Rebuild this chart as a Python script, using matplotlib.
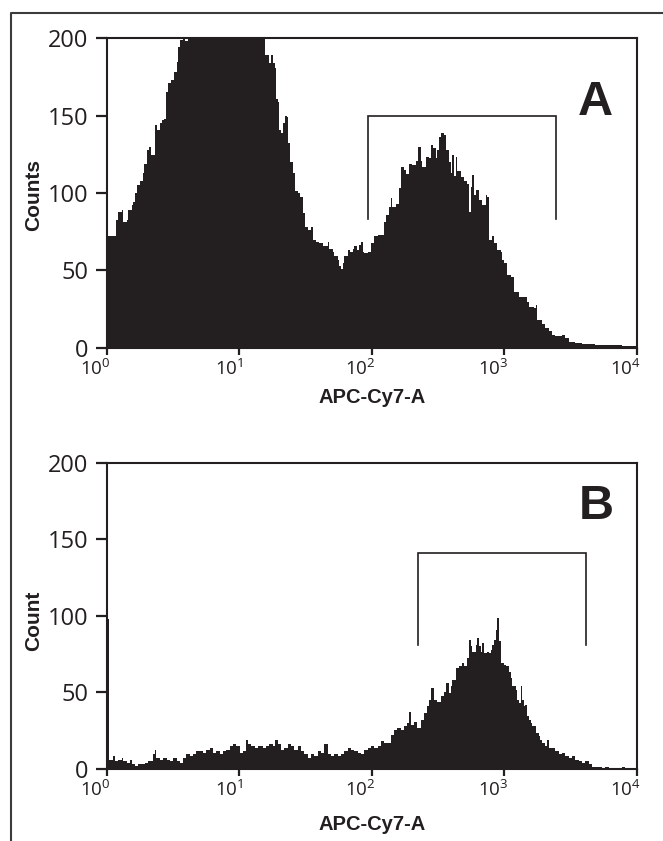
"""Two APC-Cy7-A flow cytometry histograms (A, B) with gate brackets."""

import matplotlib

matplotlib.use("Agg")
import matplotlib.pyplot as plt
import matplotlib.ticker as mticker
import numpy as np
from matplotlib.lines import Line2D
from matplotlib.transforms import ScaledTranslation

# ---- data (x positions in decades of APC-Cy7-A intensity, counts per bin) ----
a_log = [
    0.000, 0.015, 0.051, 0.071, 0.089, 0.114, 0.127, 0.152, 0.164, 0.189,
    0.202, 0.214, 0.227, 0.252, 0.272, 0.282, 0.302, 0.322, 0.332, 0.352,
    0.365, 0.382, 0.402, 0.415, 0.432, 0.447, 0.465, 0.490, 0.508, 0.528,
    0.540, 0.553, 0.580, 0.595, 0.615, 0.700, 0.800, 0.900, 1.000, 1.100,
    1.170, 1.195, 1.229, 1.242, 1.254, 1.267, 1.280, 1.292, 1.297, 1.317,
    1.329, 1.347, 1.362, 1.372, 1.387, 1.405, 1.422, 1.442, 1.462, 1.480,
    1.497, 1.517, 1.543, 1.555, 1.580, 1.605, 1.630, 1.668, 1.680, 1.705,
    1.718, 1.743, 1.756, 1.768, 1.781, 1.793, 1.818, 1.838, 1.856, 1.868,
    1.889, 1.906, 1.919, 1.931, 1.944, 1.968, 1.994, 2.019, 2.044, 2.069,
    2.089, 2.107, 2.132, 2.144, 2.156, 2.182, 2.207, 2.220, 2.244, 2.257,
    2.282, 2.307, 2.332, 2.350, 2.370, 2.382, 2.408, 2.432, 2.445, 2.465,
    2.483, 2.495, 2.508, 2.520, 2.545, 2.558, 2.583, 2.595, 2.608, 2.620,
    2.633, 2.645, 2.671, 2.695, 2.720, 2.733, 2.746, 2.758, 2.771, 2.783,
    2.808, 2.833, 2.859, 2.871, 2.883, 2.908, 2.921, 2.946, 2.971, 2.983,
    2.996, 3.021, 3.047, 3.071, 3.109, 3.147, 3.171, 3.184, 3.222, 3.235,
    3.247, 3.284, 3.310, 3.335, 3.359, 3.385, 3.435, 3.460, 3.485, 3.535,
    3.585, 3.686, 3.786, 3.886, 3.961,
]
a_counts = [
    134, 72, 72, 82.5, 88, 89, 81.5, 82.5, 89, 92,
    94.5, 100, 105, 107.5, 113, 119, 128, 130, 124.5, 124.5,
    144, 141, 145, 147, 148, 165.5, 171, 173, 178, 185,
    194.5, 199, 205, 198, 210, 228, 240, 238, 230, 218,
    205, 189, 184, 189, 184, 181, 161, 159, 141, 139,
    145, 150, 149, 132, 120, 113, 101, 100, 97.5, 87,
    78, 76, 78, 69.5, 68.5, 67.5, 65.5, 68.5, 64, 62,
    59, 56.5, 52.5, 51, 54.5, 59, 63, 62, 64, 65.5,
    63, 66.5, 68.5, 62, 61, 62, 67.5, 72, 73, 73,
    81.5, 86, 91, 96.5, 91, 93, 103, 117, 115, 112.5,
    119, 118, 121, 130, 121, 117, 123.5, 122.5, 131, 129,
    122.5, 128, 136.5, 138.5, 137.5, 128, 120, 113, 124.5, 111,
    123.5, 114, 110.5, 107.5, 106, 88, 104, 111.5, 98.5, 102,
    95.5, 92.5, 98.5, 97.5, 69.5, 72, 67.5, 63, 62, 56.5,
    54.5, 47, 46, 36, 33, 33, 29.5, 26.5, 25.5, 27.5,
    18, 15.5, 12.5, 10.5, 8, 7.5, 8, 6, 4, 3,
    2.5, 1.5, 1.5, 1, 1,
]

b_log = [
    0.000, 0.020, 0.051, 0.064, 0.089, 0.114, 0.127, 0.152, 0.177, 0.189,
    0.214, 0.239, 0.265, 0.289, 0.314, 0.340, 0.352, 0.365, 0.377, 0.402,
    0.427, 0.453, 0.477, 0.502, 0.528, 0.553, 0.577, 0.603, 0.628, 0.653,
    0.678, 0.703, 0.728, 0.753, 0.778, 0.803, 0.829, 0.853, 0.878, 0.904,
    0.929, 0.953, 0.979, 1.004, 1.029, 1.054, 1.066, 1.092, 1.117, 1.141,
    1.179, 1.205, 1.229, 1.254, 1.267, 1.292, 1.317, 1.342, 1.367, 1.393,
    1.417, 1.442, 1.468, 1.492, 1.517, 1.543, 1.568, 1.592, 1.618, 1.643,
    1.668, 1.693, 1.718, 1.743, 1.768, 1.793, 1.818, 1.844, 1.868, 1.893,
    1.919, 1.944, 1.968, 1.994, 2.019, 2.044, 2.069, 2.094, 2.119, 2.144,
    2.169, 2.194, 2.220, 2.244, 2.269, 2.282, 2.295, 2.320, 2.344, 2.370,
    2.395, 2.420, 2.432, 2.445, 2.470, 2.495, 2.520, 2.545, 2.558, 2.583,
    2.595, 2.608, 2.633, 2.658, 2.683, 2.695, 2.720, 2.733, 2.746, 2.758,
    2.783, 2.796, 2.808, 2.821, 2.833, 2.846, 2.871, 2.883, 2.896, 2.908,
    2.921, 2.934, 2.946, 2.959, 2.971, 2.996, 3.009, 3.021, 3.034, 3.047,
    3.059, 3.085, 3.097, 3.109, 3.122, 3.134, 3.147, 3.159, 3.171, 3.184,
    3.197, 3.209, 3.235, 3.259, 3.272, 3.284, 3.310, 3.322, 3.335, 3.359,
    3.385, 3.410, 3.435, 3.460, 3.485, 3.510, 3.535, 3.560, 3.585, 3.611,
    3.635, 3.660, 3.686, 3.735, 3.761, 3.786, 3.836, 3.886, 3.911, 3.961,
]
b_counts = [
    98, 6, 8.5, 5, 6, 7, 5, 4, 6, 3,
    2, 3, 3, 4, 5, 5, 9.5, 12.5, 7, 6,
    7, 6, 5, 7, 5, 4, 7, 9.5, 8.5, 9.5,
    11.5, 11.5, 10.5, 12.5, 13.5, 10.5, 11.5, 9.5, 11.5, 12.5,
    15, 16, 15, 10.5, 11.5, 19, 16, 15, 13.5, 15,
    13.5, 15, 16, 15, 19, 16, 12.5, 13.5, 16, 15,
    12.5, 15, 11.5, 9.5, 7, 9.5, 8.5, 11.5, 10.5, 16,
    9.5, 8.5, 9.5, 8.5, 9.5, 11.5, 13.5, 12.5, 11.5, 10.5,
    9.5, 12.5, 13.5, 15, 13.5, 15, 18, 17, 17, 22.5,
    25.5, 26.5, 25.5, 28, 30, 37.5, 29, 31, 26.5, 32,
    36.5, 41, 45, 53, 45, 44, 47.5, 50.5, 56, 49.5,
    54, 58, 66, 67, 69, 67, 72.5, 84.5, 80, 76.5,
    81, 85.5, 80, 76.5, 82, 75.5, 76.5, 75.5, 78, 81,
    84.5, 91, 98.5, 83.5, 69, 68, 67, 67, 63.5, 59.5,
    54, 51.5, 45, 43, 54, 45, 41, 42, 34.5, 32,
    30, 28, 23.5, 21.5, 19, 17, 15, 19, 13.5, 13.5,
    11.5, 9.5, 10.5, 8.5, 7, 8.5, 6, 5, 4, 5,
    3, 1.5, 1.5, 0.5, 1.5, 0.5, 0.5, 1.5, 0.5, 0.3,
]

# gate brackets: (left edge, right edge, top count, foot count)
a_gate = (94, 2430, 150, 83)
b_gate = (224, 4150, 141, 81)

x_ticks = [1, 10, 100, 1000, 10000]
x_tick_labels = [r"$\mathregular{10^{%d}}$" % i for i in range(5)]
y_ticks = [0, 50, 100, 150, 200]

INK = "#231f20"
FRAME = "#3b3b3b"

plt.rcParams["mathtext.fontset"] = "custom"
plt.rcParams["mathtext.rm"] = "Open Sans"
plt.rcParams["font.family"] = "Open Sans"

W, H = 663, 841
fig = plt.figure(figsize=(W / 100, H / 100), dpi=100)
fig.patch.set_facecolor("white")

# outer frame (cropped figure border: left + top edges only)
fig.add_artist(
    Line2D([11 / W, 11 / W, 1.0], [0.0, 1 - 13 / H, 1 - 13 / H],
           transform=fig.transFigure, color=FRAME, linewidth=1.5)
)


def panel(rect, logs, counts, gate, letter, letter_xy, ylabel, ylabel_y, xlabel_y):
    ax = fig.add_axes(rect)
    xs = np.append(10 ** np.asarray(logs), 1e4)
    ys = np.append(counts, counts[-1])
    ax.fill_between(xs, ys, step="post", color=INK, linewidth=0, zorder=2)

    ax.set_xscale("log")
    ax.set_xlim(1, 1e4)
    ax.set_ylim(0, 200)
    ax.set_xticks(x_ticks)
    ax.set_xticklabels(x_tick_labels)
    ax.xaxis.set_minor_locator(mticker.NullLocator())
    ax.set_yticks(y_ticks)
    ax.set_yticklabels([str(v) for v in y_ticks])

    for s in ax.spines.values():
        s.set_linewidth(1.5)
        s.set_color(INK)
        s.set_zorder(3)
    ax.tick_params(axis="y", direction="out", length=8, width=1.6, color=INK,
                   labelsize=17, labelcolor=INK, pad=5)
    ax.tick_params(axis="x", direction="out", length=5, width=1.6, color=INK,
                   labelsize=13.5, labelcolor=INK, pad=3)
    shift = ScaledTranslation(4 / 100, 0, fig.dpi_scale_trans)
    for lab in ax.get_xticklabels():
        lab.set_horizontalalignment("right")
        lab.set_transform(lab.get_transform() + shift)

    lo, hi, top, foot = gate
    ax.plot([lo, lo, hi, hi], [foot, top, top, foot], color=INK,
            linewidth=1.2, solid_joinstyle="miter", zorder=4)

    ax.text(letter_xy[0], letter_xy[1], letter, transform=ax.transAxes,
            ha="center", va="baseline", fontsize=35, fontweight="bold",
            family="Liberation Sans", color=INK)

    ax.set_ylabel(ylabel, fontsize=15, fontweight="bold",
                  family="Liberation Sans", color=INK)
    ax.yaxis.label.set_verticalalignment("center")
    ax.yaxis.set_label_coords(-0.137, ylabel_y)
    ax.set_xlabel("APC-Cy7-A", fontsize=14.5, fontweight="bold",
                  family="Liberation Sans", color=INK)
    ax.xaxis.set_label_coords(0.5, xlabel_y)
    ax.xaxis.label.set_verticalalignment("center")
    return ax


ax_a = panel([106.5 / W, 1 - 347.7 / H, 530.5 / W, 309.4 / H],
             a_log, a_counts, a_gate, "A", (0.921, 0.752),
             "Counts", 0.494, -50 / 309.4)
ax_b = panel([106.5 / W, 1 - 769 / H, 530.5 / W, 306.3 / H],
             b_log, b_counts, b_gate, "B", (0.924, 0.816),
             "Count", 0.483, -55 / 306.3)

fig.savefig("out.png", dpi=100, facecolor="white")
plt.close(fig)
